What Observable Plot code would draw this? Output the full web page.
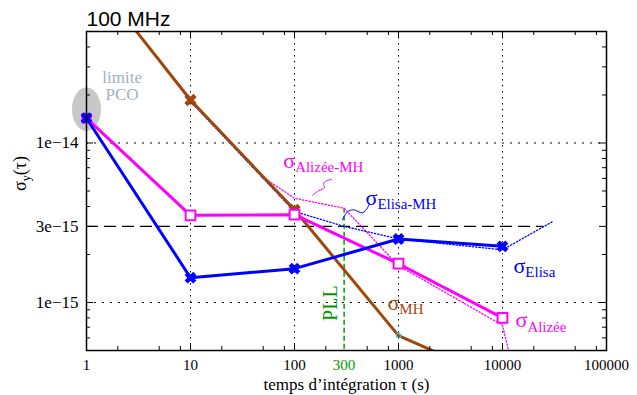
<!DOCTYPE html>
<html><head><meta charset="utf-8">
<script src="https://cdn.jsdelivr.net/npm/d3@7"></script>
<script src="https://cdn.jsdelivr.net/npm/@observablehq/plot@0.6"></script>
<style>body{margin:0;background:#fff}</style>
</head><body><div id="chart"></div>
<script>
// ---- data ----
const tauElisa = [1, 10, 100, 1000, 10000];
const sigmaElisa = [1.43e-14, 1.43e-15, 1.63e-15, 2.5e-15, 2.25e-15];
const tauAlizee = [1, 10, 100, 1000, 10000];
const sigmaAlizee = [1.43e-14, 3.52e-15, 3.55e-15, 1.75e-15, 8.0e-16];
const tauMH = [1, 10, 100, 1000, 10000];
const sigmaMH = [1.25e-13, 1.86e-14, 3.81e-15, 6.2e-16, 3.2e-16];
const tauElisaMH = [10, 100, 300, 1000, 10000, 30000];
const sigmaElisaMH = [1.82e-14, 3.72e-15, 3.0e-15, 2.5e-15, 2.14e-15, 3.2e-15];
const tauAlizeeMH = [10, 50, 100, 300, 1000, 10000, 20000];
const sigmaAlizeeMH = [1.86e-14, 6.1e-15, 4.5e-15, 3.9e-15, 1.7e-15, 7.2e-16, 1.1e-16];

const refSigma = 3e-15, refTauStart = 1, refTauEnd = 25000;
const pllTau = 300, pllTop = 3.9e-15, pllBottom = 5e-16, pllLabelSigma = 9.9e-16;
const pcoTau = [1], pcoSigma = [1.63e-14];
const pcoLabel = ["limite", "PCO"], pcoLabelTau = [2.2, 2.2], pcoLabelSigma = [2.56e-14, 2.0e-14];

const seriesLabelText = ["σ_Alizée-MH", "σ_Elisa-MH", "σ_Elisa", "σ_MH", "σ_Alizée"];
const seriesLabelTau = [78, 482, 12760, 784, 13340];
const seriesLabelSigma = [7.72e-15, 4.53e-15, 1.70e-15, 1.0e-15, 7.72e-16];
const seriesLabelColor = ["#ff00ff", "#0000ff", "#0000ff", "#a0460a", "#ff00ff"];

const squiggleAlizeeTau = [149, 170, 194, 190, 203, 227];
const squiggleAlizeeSigma = [4.7e-15, 5.0e-15, 5.25e-15, 5.55e-15, 5.8e-15, 5.9e-15];
const squiggleElisaTau = [289, 323, 369, 451, 503, 526];
const squiggleElisaSigma = [3.3e-15, 3.7e-15, 3.81e-15, 3.65e-15, 3.92e-15, 4.16e-15];

const xTickValues = [1, 10, 100, 1000, 10000, 100000];
const xTickLabels = ["1", "10", "100", "1000", "10000", "100000"];
const pllTickLabel = "300";
const yTickValues = [1e-15, 3e-15, 1e-14];
const yTickLabels = ["1e\u221215", "3e\u221215", "1e\u221214"];
const xGrid = [10, 100, 1000, 10000];
const yGrid = [1e-15, 1e-14];
const xMajorTicks = [10, 100, 1000, 10000];
const xMinorTicks = [2, 5, 8, 20, 50, 80, 200, 500, 800, 2000, 5000, 8000, 20000, 50000, 80000];
const yMajorTicks = [1e-15, 3e-15, 1e-14];
const yMinorTicks = [6e-16, 7e-16, 8e-16, 9e-16, 2e-15, 4e-15, 5e-15, 6e-15, 7e-15, 8e-15, 9e-15, 2e-14, 3e-14, 4e-14];

const title = "100 MHz";
const xLabel = "temps d\u2019intégration τ (s)";
const yLabel = "σ_y^(τ)";

// ---- styling ----
const W = 637, H = 395, mL = 86, mR = 31, mT = 31, mB = 45;
const fw = W - mL - mR, fh = H - mT - mB;
const serif = "'Liberation Serif', 'Times New Roman', serif";
const blue = "#0000ff", magenta = "#ff00ff", brown = "#a0460a", green = "#009a00";

const ellipseSymbol = {
  draw(context, size) {
    const r = Math.sqrt(size / Math.PI), rx = r, ry = r * 1.5, k = 0.5523;
    context.moveTo(rx, 0);
    context.bezierCurveTo(rx, k * ry, k * rx, ry, 0, ry);
    context.bezierCurveTo(-k * rx, ry, -rx, k * ry, -rx, 0);
    context.bezierCurveTo(-rx, -k * ry, -k * rx, -ry, 0, -ry);
    context.bezierCurveTo(k * rx, -ry, rx, -k * ry, rx, 0);
    context.closePath();
  }
};

const chart = Plot.plot({
  width: W, height: H,
  marginLeft: mL, marginRight: mR, marginTop: mT, marginBottom: mB,
  style: {fontFamily: serif, fontSize: "15px", background: "#fff", overflow: "visible"},
  x: {type: "log", domain: [1, 1e5], axis: null},
  y: {type: "log", domain: [5e-16, 5e-14], axis: null},
  color: {type: "identity"},
  marks: [
    Plot.ruleX(xGrid, {stroke: "#000", strokeWidth: 1, strokeDasharray: "1.5,4.5"}),
    Plot.ruleY(yGrid, {stroke: "#000", strokeWidth: 1, strokeDasharray: "2,6"}),
    Plot.ruleY([refSigma], {x1: refTauStart, x2: refTauEnd, stroke: "#000", strokeWidth: 1.3, strokeDasharray: "12,6"}),
    Plot.ruleX([pllTau], {y1: pllTop, y2: pllBottom, stroke: green, strokeWidth: 1.5, strokeDasharray: "5,3"}),
    Plot.dot(pcoTau, {x: pcoTau, y: pcoSigma, r: 14.5, symbol: ellipseSymbol, fill: "#c8c8c8", stroke: "none"}),
    Plot.text(pcoLabel, {x: pcoLabelTau, y: pcoLabelSigma, text: d => d, fill: "#a3b0c0", fontSize: 17}),
    Plot.line(tauAlizeeMH, {x: tauAlizeeMH, y: sigmaAlizeeMH, stroke: magenta, strokeWidth: 1.3, strokeDasharray: "1.3,2", clip: true}),
    Plot.line(tauElisaMH, {x: tauElisaMH, y: sigmaElisaMH, stroke: blue, strokeWidth: 1.3, strokeDasharray: "1.3,2", clip: true}),
    Plot.line(tauMH, {x: tauMH, y: sigmaMH, stroke: brown, strokeWidth: 3, clip: true}),
    Plot.line(tauAlizee, {x: tauAlizee, y: sigmaAlizee, stroke: magenta, strokeWidth: 3}),
    Plot.line(tauElisa, {x: tauElisa, y: sigmaElisa, stroke: blue, strokeWidth: 3}),
    Plot.line(squiggleAlizeeTau, {x: squiggleAlizeeTau, y: squiggleAlizeeSigma, stroke: magenta, strokeWidth: 1, curve: "catmull-rom"}),
    Plot.line(squiggleElisaTau, {x: squiggleElisaTau, y: squiggleElisaSigma, stroke: blue, strokeWidth: 1, curve: "catmull-rom"}),
    Plot.dot(tauMH, {x: tauMH, y: sigmaMH, filter: d => d === 10 || d === 100, symbol: "times", r: 4.2, stroke: brown, strokeWidth: 4.5}),
    Plot.dot(tauMH, {x: tauMH, y: sigmaMH, filter: d => d === 1000, r: 2.5, stroke: "#00e5ff", strokeWidth: 1, fill: "none"}),
    Plot.dot(tauAlizee, {x: tauAlizee, y: sigmaAlizee, filter: d => d !== 1, symbol: "square", r: 5.5, stroke: magenta, strokeWidth: 2, fill: "#fff"}),
    Plot.dot(tauAlizee, {x: tauAlizee, y: sigmaAlizee, filter: d => d === 1, symbol: "square", r: 5.8, fill: magenta, stroke: "none"}),
    Plot.dot(tauElisa, {x: tauElisa, y: sigmaElisa, symbol: "times", r: 4, stroke: blue, strokeWidth: 4.5}),
    Plot.text(seriesLabelText, {x: seriesLabelTau, y: seriesLabelSigma, text: d => d, fill: seriesLabelColor, textAnchor: "start", fontSize: 22}),
    Plot.text(["PLL"], {x: [pllTau], y: [pllLabelSigma], text: d => d, rotate: -90, dx: -14, fill: green, fontSize: 20}),
    Plot.text([title], {frameAnchor: "top-left", textAnchor: "start", lineAnchor: "middle", dy: -12, fontFamily: "'Liberation Sans', Arial, sans-serif", fontSize: 21, fill: "#000"}),
    Plot.text([xLabel], {frameAnchor: "bottom", lineAnchor: "middle", dy: 34, fontSize: 17, fill: "#000"}),
    Plot.text([yLabel], {frameAnchor: "left", lineAnchor: "middle", dx: -66, rotate: -90, fontSize: 18, fill: "#000"}),
    Plot.text(xTickValues, {x: d => d, frameAnchor: "bottom", lineAnchor: "middle", dy: 15, text: d => xTickLabels[xTickValues.indexOf(d)], fontSize: 15, fill: "#000"}),
    Plot.text([pllTau], {x: d => d, frameAnchor: "bottom", lineAnchor: "middle", dy: 15, text: () => pllTickLabel, fontSize: 15, fill: green}),
    Plot.text(yTickValues, {y: d => d, frameAnchor: "left", textAnchor: "end", lineAnchor: "middle", dx: -8, text: d => yTickLabels[yTickValues.indexOf(d)], fontSize: 17, fill: "#000"}),
    Plot.tickX(xMinorTicks, {insetTop: fh - 4, stroke: "#000"}),
    Plot.tickX(xMinorTicks, {insetBottom: fh - 4, stroke: "#000"}),
    Plot.tickX(xMajorTicks, {insetTop: fh - 7, stroke: "#000"}),
    Plot.tickX(xMajorTicks, {insetBottom: fh - 7, stroke: "#000"}),
    Plot.tickY(yMinorTicks, {insetRight: fw - 4, stroke: "#000"}),
    Plot.tickY(yMinorTicks, {insetLeft: fw - 4, stroke: "#000"}),
    Plot.tickY(yMajorTicks, {insetRight: fw - 7, stroke: "#000"}),
    Plot.tickY(yMajorTicks, {insetLeft: fw - 7, stroke: "#000"}),
    Plot.frame({stroke: "#000", strokeWidth: 1.5})
  ]
});

// subscripts: "_" starts a subscript, "^" returns to the base line
chart.querySelectorAll("text").forEach(t => {
  const s = t.textContent;
  if (!/[_^]/.test(s) || t.children.length) return;
  t.textContent = "";
  const parts = s.split(/([_^])/);
  let mode = "base";
  const ns = "http://www.w3.org/2000/svg";
  let first = true;
  for (const p of parts) {
    if (p === "_") { mode = "sub"; continue; }
    if (p === "^") { mode = "ret"; continue; }
    if (!p) continue;
    if (first && mode === "base") { t.appendChild(document.createTextNode(p)); first = false; continue; }
    const ts = document.createElementNS(ns, "tspan");
    ts.textContent = p;
    if (mode === "sub") { ts.setAttribute("font-size", "0.68em"); ts.setAttribute("dy", "0.27em"); }
    else if (mode === "ret") { ts.setAttribute("dy", "-0.184em"); }
    t.appendChild(ts);
    first = false;
  }
});

document.getElementById("chart").appendChild(chart);
</script>
</body></html>
